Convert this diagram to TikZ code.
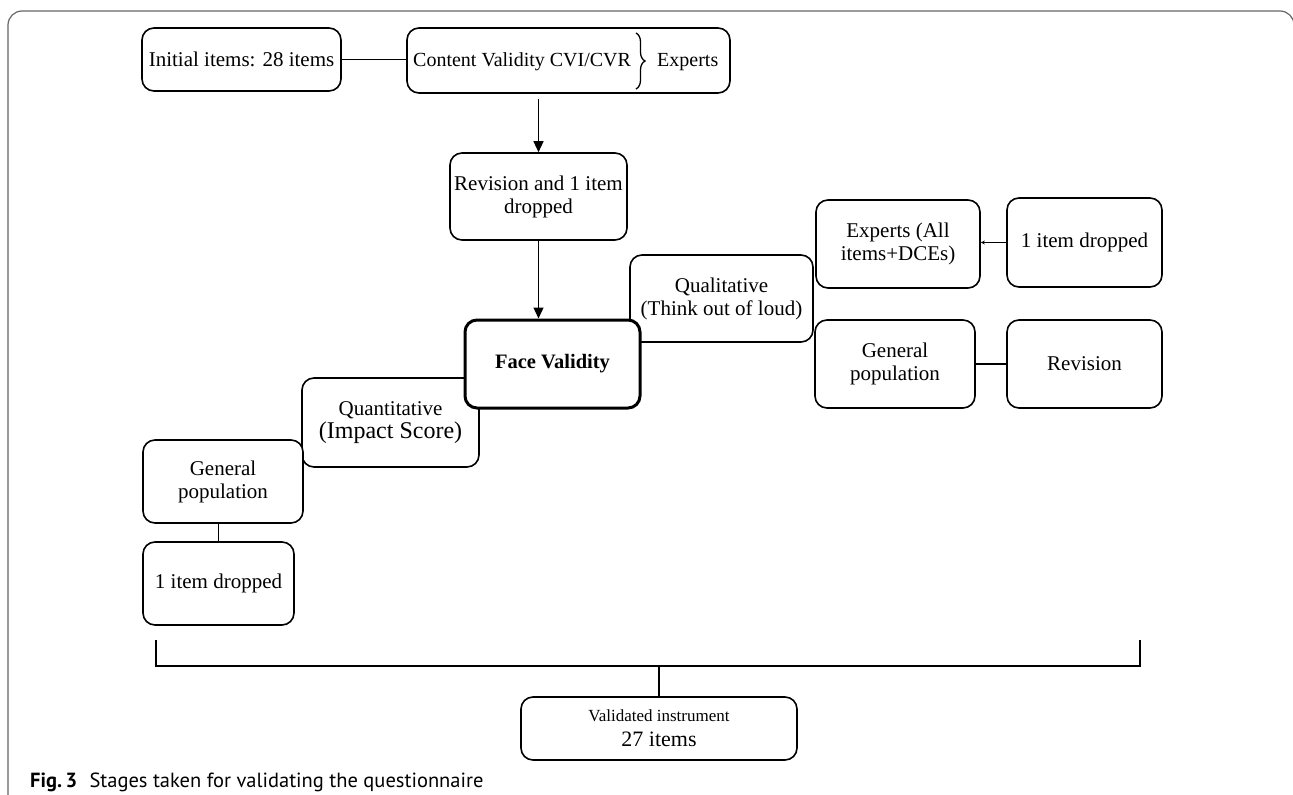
\documentclass[tikz,border=0pt]{standalone}
\usepackage{fontspec}
\setmainfont{Liberation Serif}
\newfontfamily\capfont{PT Sans}
\usetikzlibrary{arrows.meta,decorations.pathreplacing}
\tikzset{
  box/.style={draw, line width=1.6pt, rounded corners=12pt, fill=white, inner sep=2pt, align=center,
    font=\fontsize{21}{23}\selectfont},
  conn/.style={line width=1.3pt},
  arr/.style={line width=1.3pt, -{Triangle[length=11pt,width=10pt]}},
  tinyarr/.style={line width=1.3pt, -{Stealth[length=4pt,width=4pt]}},
  framecol/.style={draw=black!60, line width=1.2pt}
}
\begin{document}
\begin{tikzpicture}[x=1pt,y=-1pt]
\useasboundingbox (0,0) rectangle (1293,795);
% outer frame
\draw[framecol, rounded corners=14pt] (8,800) -- (8,11) -- (1294,11) -- (1294,800);

% top row
\node[box, minimum width=199, minimum height=63] (A) at (241.5,59.5) {Initial items: 28 items};
\node[box, minimum width=323, minimum height=65] (B) at (568.5,60.5) {};
\node[anchor=west, inner sep=0, font=\fontsize{20}{22}\selectfont] (Bt) at (413,62) {Content Validity CVI/CVR};
\draw[conn, decorate, decoration={brace, amplitude=9pt}] (636,33) -- (636,89);
\node[anchor=west, inner sep=0, font=\fontsize{20}{22}\selectfont] (Bx) at (657,62) {Experts};
\draw[conn] (A.east) -- (A.east -| B.west);

% left / lower boxes (behind face validity)
\node[box, minimum width=177, minimum height=89] (QN) at (390.5,422.5)
  {Quantitative\\{\fontsize{24}{25}\selectfont (Impact Score)}};
\node[box, minimum width=160, minimum height=83] (GL) at (223,481.5) {General\\population};
\node[box, minimum width=151, minimum height=83] (DL) at (218.5,583.5) {1 item dropped};
\draw[conn] (DL.north) -- (DL.north |- GL.south);

% qualitative branch
\node[box, minimum width=183, minimum height=87] (Q) at (721.5,298.5) {Qualitative\\(Think out of loud)};
\node[box, minimum width=164, minimum height=88] (E) at (898,244) {Experts (All\\items+DCEs)};
\node[box, minimum width=155, minimum height=89] (D1) at (1084.5,242.5) {1 item dropped};
\node[box, minimum width=160, minimum height=88] (GR) at (895,364) {General\\population};
\node[box, minimum width=155, minimum height=88] (RR) at (1084.5,364) {Revision};
\draw[tinyarr] (D1.west) -- (D1.west -| E.east);
\draw[conn] (GR.east) -- (GR.east -| RR.west);

% centre column
\node[box, minimum width=177, minimum height=87] (C) at (538.5,196.5) {Revision and 1 item\\dropped};
\node[box, line width=3pt, minimum width=175, minimum height=88, font=\bfseries\fontsize{20.5}{22}\selectfont] (FV) at (552.5,364) {Face Validity};
\draw[arr] ([yshift=-5pt]B.south -| C.north) -- (C.north);
\draw[arr] (C.south) -- (C.south |- FV.north);

% bottom bracket
\node[box, minimum width=276, minimum height=63] (V) at (659,728.5)
  {{\fontsize{17}{19}\selectfont Validated instrument}\\[2pt]{\fontsize{22}{24}\selectfont 27 items}};
\coordinate (bl) at (156,640);
\coordinate (blb) at (156,666);
\coordinate (brb) at (1140,666);
\coordinate (br) at (1140,640);
\draw[conn] (bl) -- (blb) -- (brb) -- (br);
\draw[conn] (V.north) -- (V.north |- blb);

% caption
\node[anchor=base west, inner sep=0, font=\capfont\fontsize{20.5}{22}\selectfont] (cap) at (30,787)
  {\textbf{Fig.\,3}\hspace{0.6em}Stages taken for validating the questionnaire};
\end{tikzpicture}
\end{document}
